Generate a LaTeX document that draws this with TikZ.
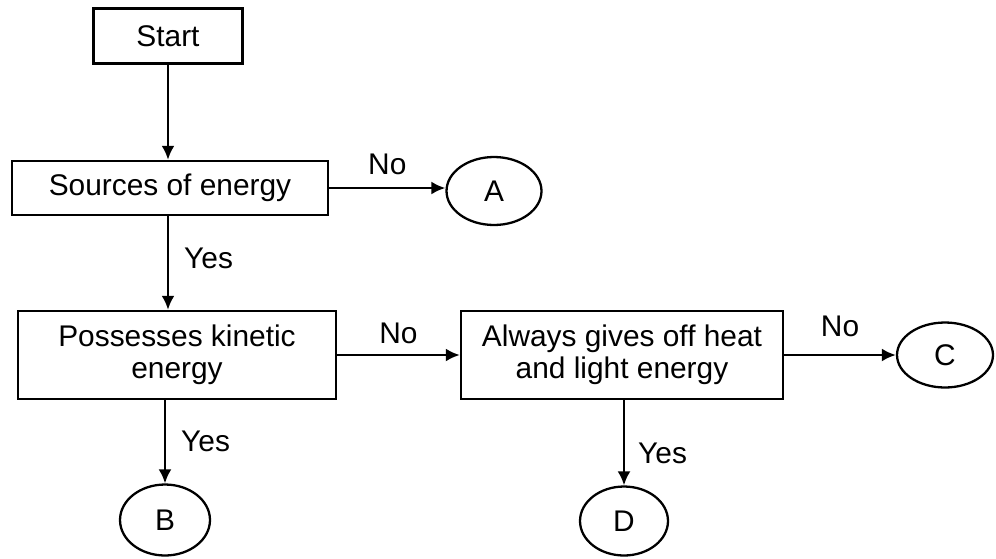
\documentclass[tikz,border=0pt]{standalone}
\usepackage{fontspec}
\setmainfont{Liberation Sans}
\usetikzlibrary{arrows.meta,shapes.geometric,positioning,calc}

\begin{document}
\begin{tikzpicture}
[x=0.02cm,y=-0.02cm,
txt/.style={font=\fontsize{17}{18}\selectfont},
box/.style={txt,draw,rectangle,line width=1.4pt,align=center,inner sep=0pt},
term/.style={txt,draw,ellipse,line width=1.3pt,inner sep=0pt},
lbl/.style={txt,inner sep=0pt},
dedge/.style={line width=1.4pt,-{Latex[length=2.8mm,width=2.6mm]}}]
\useasboundingbox (0,0) rectangle (996,558);
%%
%%%%%%%%%%%%%%%%%%
% Boxes
%%%%%%%%%%%%%%%%%%
\node[box,minimum width=2.98cm,minimum height=1.1cm] (start) at (168,36) {Start};
\node[box,minimum width=6.32cm,minimum height=1.08cm] (sources) at (170,188) {Sources of energy};
\node[box,minimum width=6.36cm,minimum height=1.76cm] (kinetic) at (177,355) {Possesses kinetic\\energy};
\node[box,minimum width=6.44cm,minimum height=1.76cm] (heat) at (622,355) {Always gives off heat\\and light energy};
%%
%%%%%%%%%%%%%%%%%%
% End points
%%%%%%%%%%%%%%%%%%
\node[term,minimum width=1.9cm,minimum height=1.36cm] (A) at (494,191) {A};
\node[term,minimum width=1.8cm,minimum height=1.42cm] (B) at (165,520) {B};
\node[term,minimum width=1.92cm,minimum height=1.3cm] (C) at (945,355) {C};
\node[term,minimum width=1.76cm,minimum height=1.38cm] (D) at (624,521) {D};
%%
%%%%%%%%%%%%%%%%%%
% Arrows
%%%%%%%%%%%%%%%%%%
\draw [dedge] (start) -- (start |- sources.north);
\draw [dedge] (sources.south -| start) -- (start |- kinetic.north)
  node [lbl,pos=0.45,right=0.3cm] {Yes};
\draw [dedge] (sources.east) -- (sources.east -| A.west)
  node [lbl,midway,above=0.24cm] {No};
\draw [dedge] (kinetic.east) -- (kinetic.east -| heat.west)
  node [lbl,midway,above=0.2cm] {No};
\draw [dedge] (heat.east) -- (heat.east -| C.west)
  node [lbl,midway,above=0.34cm] {No};
\draw [dedge] (kinetic.south -| B) -- (B.north)
  node [lbl,midway,right=0.3cm] {Yes};
\draw [dedge] (heat.south -| D) -- (D.north)
  node [lbl,pos=0.62,right=0.26cm] {Yes};
%%
\end{tikzpicture}
\end{document}
